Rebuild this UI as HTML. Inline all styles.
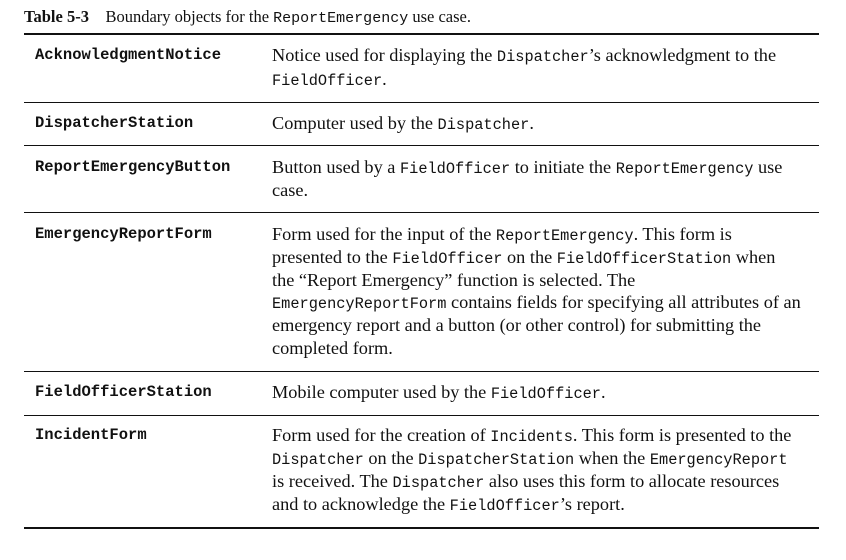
<!DOCTYPE html>
<html><head><meta charset="utf-8"><style>
body{margin:0;width:846px;height:560px;background:#fff;position:relative;overflow:hidden;font-family:"Liberation Serif",serif;color:#111}
.l{position:absolute;left:272px;font-size:18.3px;line-height:20px;white-space:nowrap}
.n{position:absolute;left:35px;font-family:"Liberation Mono",monospace;font-weight:bold;font-size:15.5px;line-height:20px;white-space:nowrap}
.m{font-family:"Liberation Mono",monospace;font-size:15.3px}
.h{position:absolute;left:24px;width:795px;background:#111}
</style></head><body>
<div style="position:absolute;left:24px;top:6px;font-size:16.5px;line-height:22px;white-space:nowrap"><b>Table 5-3</b>&nbsp;&nbsp;&nbsp;&nbsp;Boundary objects for the <span class="m" style="font-size:15px">ReportEmergency</span> use case.</div>
<div class="h" style="top:33px;height:2px"></div>
<div class="h" style="top:102px;height:1px"></div>
<div class="h" style="top:145px;height:1px"></div>
<div class="h" style="top:212px;height:1px"></div>
<div class="h" style="top:371px;height:1px"></div>
<div class="h" style="top:415px;height:1px"></div>
<div class="h" style="top:527px;height:2px"></div>

<div class="n" style="top:45px">AcknowledgmentNotice</div>
<div class="l" style="top:45px">Notice used for displaying the <span class="m">Dispatcher</span>’s acknowledgment to the</div>
<div class="l" style="top:69px"><span class="m">FieldOfficer</span>.</div>

<div class="n" style="top:113px">DispatcherStation</div>
<div class="l" style="top:113px">Computer used by the <span class="m">Dispatcher</span>.</div>

<div class="n" style="top:157px">ReportEmergencyButton</div>
<div class="l" style="top:157px">Button used by a <span class="m">FieldOfficer</span> to initiate the <span class="m">ReportEmergency</span> use</div>
<div class="l" style="top:180px">case.</div>

<div class="n" style="top:224px">EmergencyReportForm</div>
<div class="l" style="top:224px">Form used for the input of the <span class="m">ReportEmergency</span>. This form is</div>
<div class="l" style="top:247px">presented to the <span class="m">FieldOfficer</span> on the <span class="m">FieldOfficerStation</span> when</div>
<div class="l" style="top:270px">the “Report Emergency” function is selected. The</div>
<div class="l" style="top:292px"><span class="m">EmergencyReportForm</span> contains fields for specifying all attributes of an</div>
<div class="l" style="top:315px">emergency report and a button (or other control) for submitting the</div>
<div class="l" style="top:338px">completed form.</div>

<div class="n" style="top:382px">FieldOfficerStation</div>
<div class="l" style="top:382px">Mobile computer used by the <span class="m">FieldOfficer</span>.</div>

<div class="n" style="top:425px">IncidentForm</div>
<div class="l" style="top:425px">Form used for the creation of <span class="m">Incidents</span>. This form is presented to the</div>
<div class="l" style="top:448px"><span class="m">Dispatcher</span> on the <span class="m">DispatcherStation</span> when the <span class="m">EmergencyReport</span></div>
<div class="l" style="top:471px">is received. The <span class="m">Dispatcher</span> also uses this form to allocate resources</div>
<div class="l" style="top:494px">and to acknowledge the <span class="m">FieldOfficer</span>’s report.</div>
</body></html>
